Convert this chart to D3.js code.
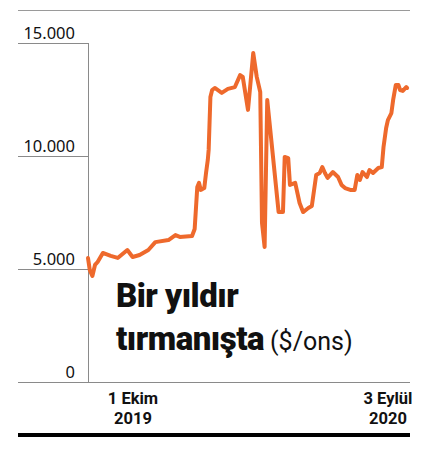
<!DOCTYPE html>
<html>
<head>
<meta charset="utf-8">
<script src="https://cdn.jsdelivr.net/npm/d3@7"></script>
<style>
  body { margin: 0; background: #fff; }
  svg { display: block; }
</style>
</head>
<body>
<svg id="chart"></svg>
<script>
// rodyum fiyatı, $/ons
var dates = ["2019-09-03","2019-09-05","2019-09-08","2019-09-11","2019-09-14","2019-09-20","2019-09-29",
             "2019-10-07","2019-10-18","2019-10-24","2019-11-01","2019-11-11","2019-11-19","2019-12-04",
             "2019-12-12","2019-12-17","2019-12-31","2020-01-03","2020-01-06","2020-01-08","2020-01-10",
             "2020-01-14","2020-01-16","2020-01-18","2020-01-19","2020-01-21","2020-01-23","2020-01-26",
             "2020-02-03","2020-02-10","2020-02-18","2020-02-24","2020-02-27","2020-03-04","2020-03-10",
             "2020-03-14","2020-03-18","2020-03-20","2020-03-23","2020-03-26","2020-04-08","2020-04-13",
             "2020-04-15","2020-04-19","2020-04-21","2020-04-27","2020-05-02","2020-05-06","2020-05-12",
             "2020-05-16","2020-05-21","2020-05-25","2020-05-28","2020-05-31","2020-06-03","2020-06-09",
             "2020-06-15","2020-06-19","2020-06-23","2020-06-29","2020-07-04","2020-07-07","2020-07-10",
             "2020-07-13","2020-07-18","2020-07-21","2020-07-25","2020-07-31","2020-08-04","2020-08-06",
             "2020-08-09","2020-08-11","2020-08-15","2020-08-17","2020-08-20","2020-08-23","2020-08-25",
             "2020-08-28","2020-09-01","2020-09-02"],
    prices = [5490,4960,4690,5180,5310,5710,5580,
              5490,5840,5530,5620,5840,6190,6280,
              6500,6420,6460,6770,8630,8810,8500,
              8580,9250,9820,10270,12610,12920,13010,
              12790,12970,13050,13580,13500,12040,14560,
              13500,12830,7040,5970,12480,7520,7520,
              9960,9910,8720,8810,7920,7520,7700,
              7790,9160,9250,9510,9250,9030,9290,
              9070,8720,8580,8500,8500,9160,8940,
              9290,9070,9380,9250,9470,9510,10400,
              11240,11590,11900,12480,13140,13140,12920,
              12880,13050,13010];

var yTicks = [0, 5000, 10000, 15000],
    xTickDates = ["2019-10-01", "2020-09-03"],
    xTickDays = ["1 Ekim", "3 Eylül"],
    xTickYears = ["2019", "2020"],
    domainDates = ["2019-09-03", "2020-09-03"];

var width = 427, height = 450,
    left = 18, right = 410,
    axisX = 88,
    plotTop = 43, plotBottom = 382,
    orange = "#ee692c";

var parse = d3.timeParse("%Y-%m-%d");
var data = dates.map(function(d, i) { return {date: parse(d), value: prices[i]}; });

var tr = d3.formatLocale({decimal: ",", thousands: ".", grouping: [3], currency: ["", "$"]});

var xScale = d3.scaleTime()
      .domain(domainDates.map(parse))
      .range([axisX, 408]),
    yScale = d3.scaleLinear()
      .domain([0, 15000])
      .range([plotBottom, plotTop]);

var svg = d3.select("#chart")
    .attr("width", width)
    .attr("height", height);

// ince üst çizgi
svg.append("line")
    .attr("x1", left).attr("x2", right)
    .attr("y1", 10.5).attr("y2", 10.5)
    .attr("stroke", "#9a9a9a")
    .attr("stroke-width", 1);

var yAxis = d3.axisLeft(yScale)
    .tickValues(yTicks)
    .tickSize(axisX - left)
    .tickFormat(tr.format(",d"));

var gy = svg.append("g")
    .attr("transform", "translate(" + axisX + ",0)")
    .call(yAxis);

gy.select(".domain").remove();
gy.selectAll(".tick line")
    .attr("stroke", "#8a8a8a");
gy.selectAll(".tick text")
    .attr("x", -13)
    .attr("y", -5)
    .attr("dy", 0)
    .attr("text-anchor", "end")
    .attr("fill", "#111")
    .style("font-family", "'Noto Sans', sans-serif")
    .style("font-size", "16.5px");

// dikey eksen
svg.append("line")
    .attr("x1", axisX + 0.5).attr("x2", axisX + 0.5)
    .attr("y1", yScale(15000)).attr("y2", yScale(0))
    .attr("stroke", "#8a8a8a");

// taban çizgisi
svg.append("line")
    .attr("x1", left).attr("x2", right)
    .attr("y1", yScale(0) + 0.5).attr("y2", yScale(0) + 0.5)
    .attr("stroke", "#8a8a8a");

var line = d3.line()
    .x(function(d) { return xScale(d.date); })
    .y(function(d) { return yScale(d.value); });

svg.append("path")
    .datum(data)
    .attr("fill", "none")
    .attr("stroke", orange)
    .attr("stroke-width", 4)
    .attr("stroke-linejoin", "round")
    .attr("stroke-linecap", "round")
    .attr("d", line);

// x etiketleri: gün + yıl, ayrı satırlar
function labelX(d, i) { return xScale(parse(d)) + (i === 0 ? 20.5 : -20); }

[xTickDays, xTickYears].forEach(function(rows, r) {
  svg.append("g")
    .selectAll("text")
      .data(xTickDates).enter()
      .append("text")
        .attr("x", labelX)
        .attr("y", 404 + r * 20)
        .attr("text-anchor", "middle")
        .attr("fill", "#111")
        .style("font-family", "Roboto, sans-serif")
        .style("font-size", "16.5px")
        .style("font-weight", "bold")
        .text(function(d, i) { return rows[i]; });
});

// başlık
svg.append("text")
    .attr("x", 116)
    .attr("y", 307)
    .attr("fill", "#111")
    .style("font-family", "Roboto, sans-serif")
    .style("font-size", "33px")
    .style("font-weight", 900)
    .style("letter-spacing", "-0.5px")
    .text("Bir yıldır");

var t2 = svg.append("text")
    .attr("x", 116)
    .attr("y", 350)
    .attr("fill", "#111")
    .style("font-family", "Roboto, sans-serif");

t2.append("tspan")
    .style("font-size", "33px")
    .style("font-weight", 900)
    .style("letter-spacing", "-0.5px")
    .text("tırmanışta");

t2.append("tspan")
    .attr("dx", 6)
    .style("font-size", "25px")
    .style("font-weight", 400)
    .text("($/ons)");

// kalın alt çizgi
svg.append("rect")
    .attr("x", left)
    .attr("y", 433)
    .attr("width", right - left)
    .attr("height", 4)
    .attr("fill", "#000");
</script>
</body>
</html>
